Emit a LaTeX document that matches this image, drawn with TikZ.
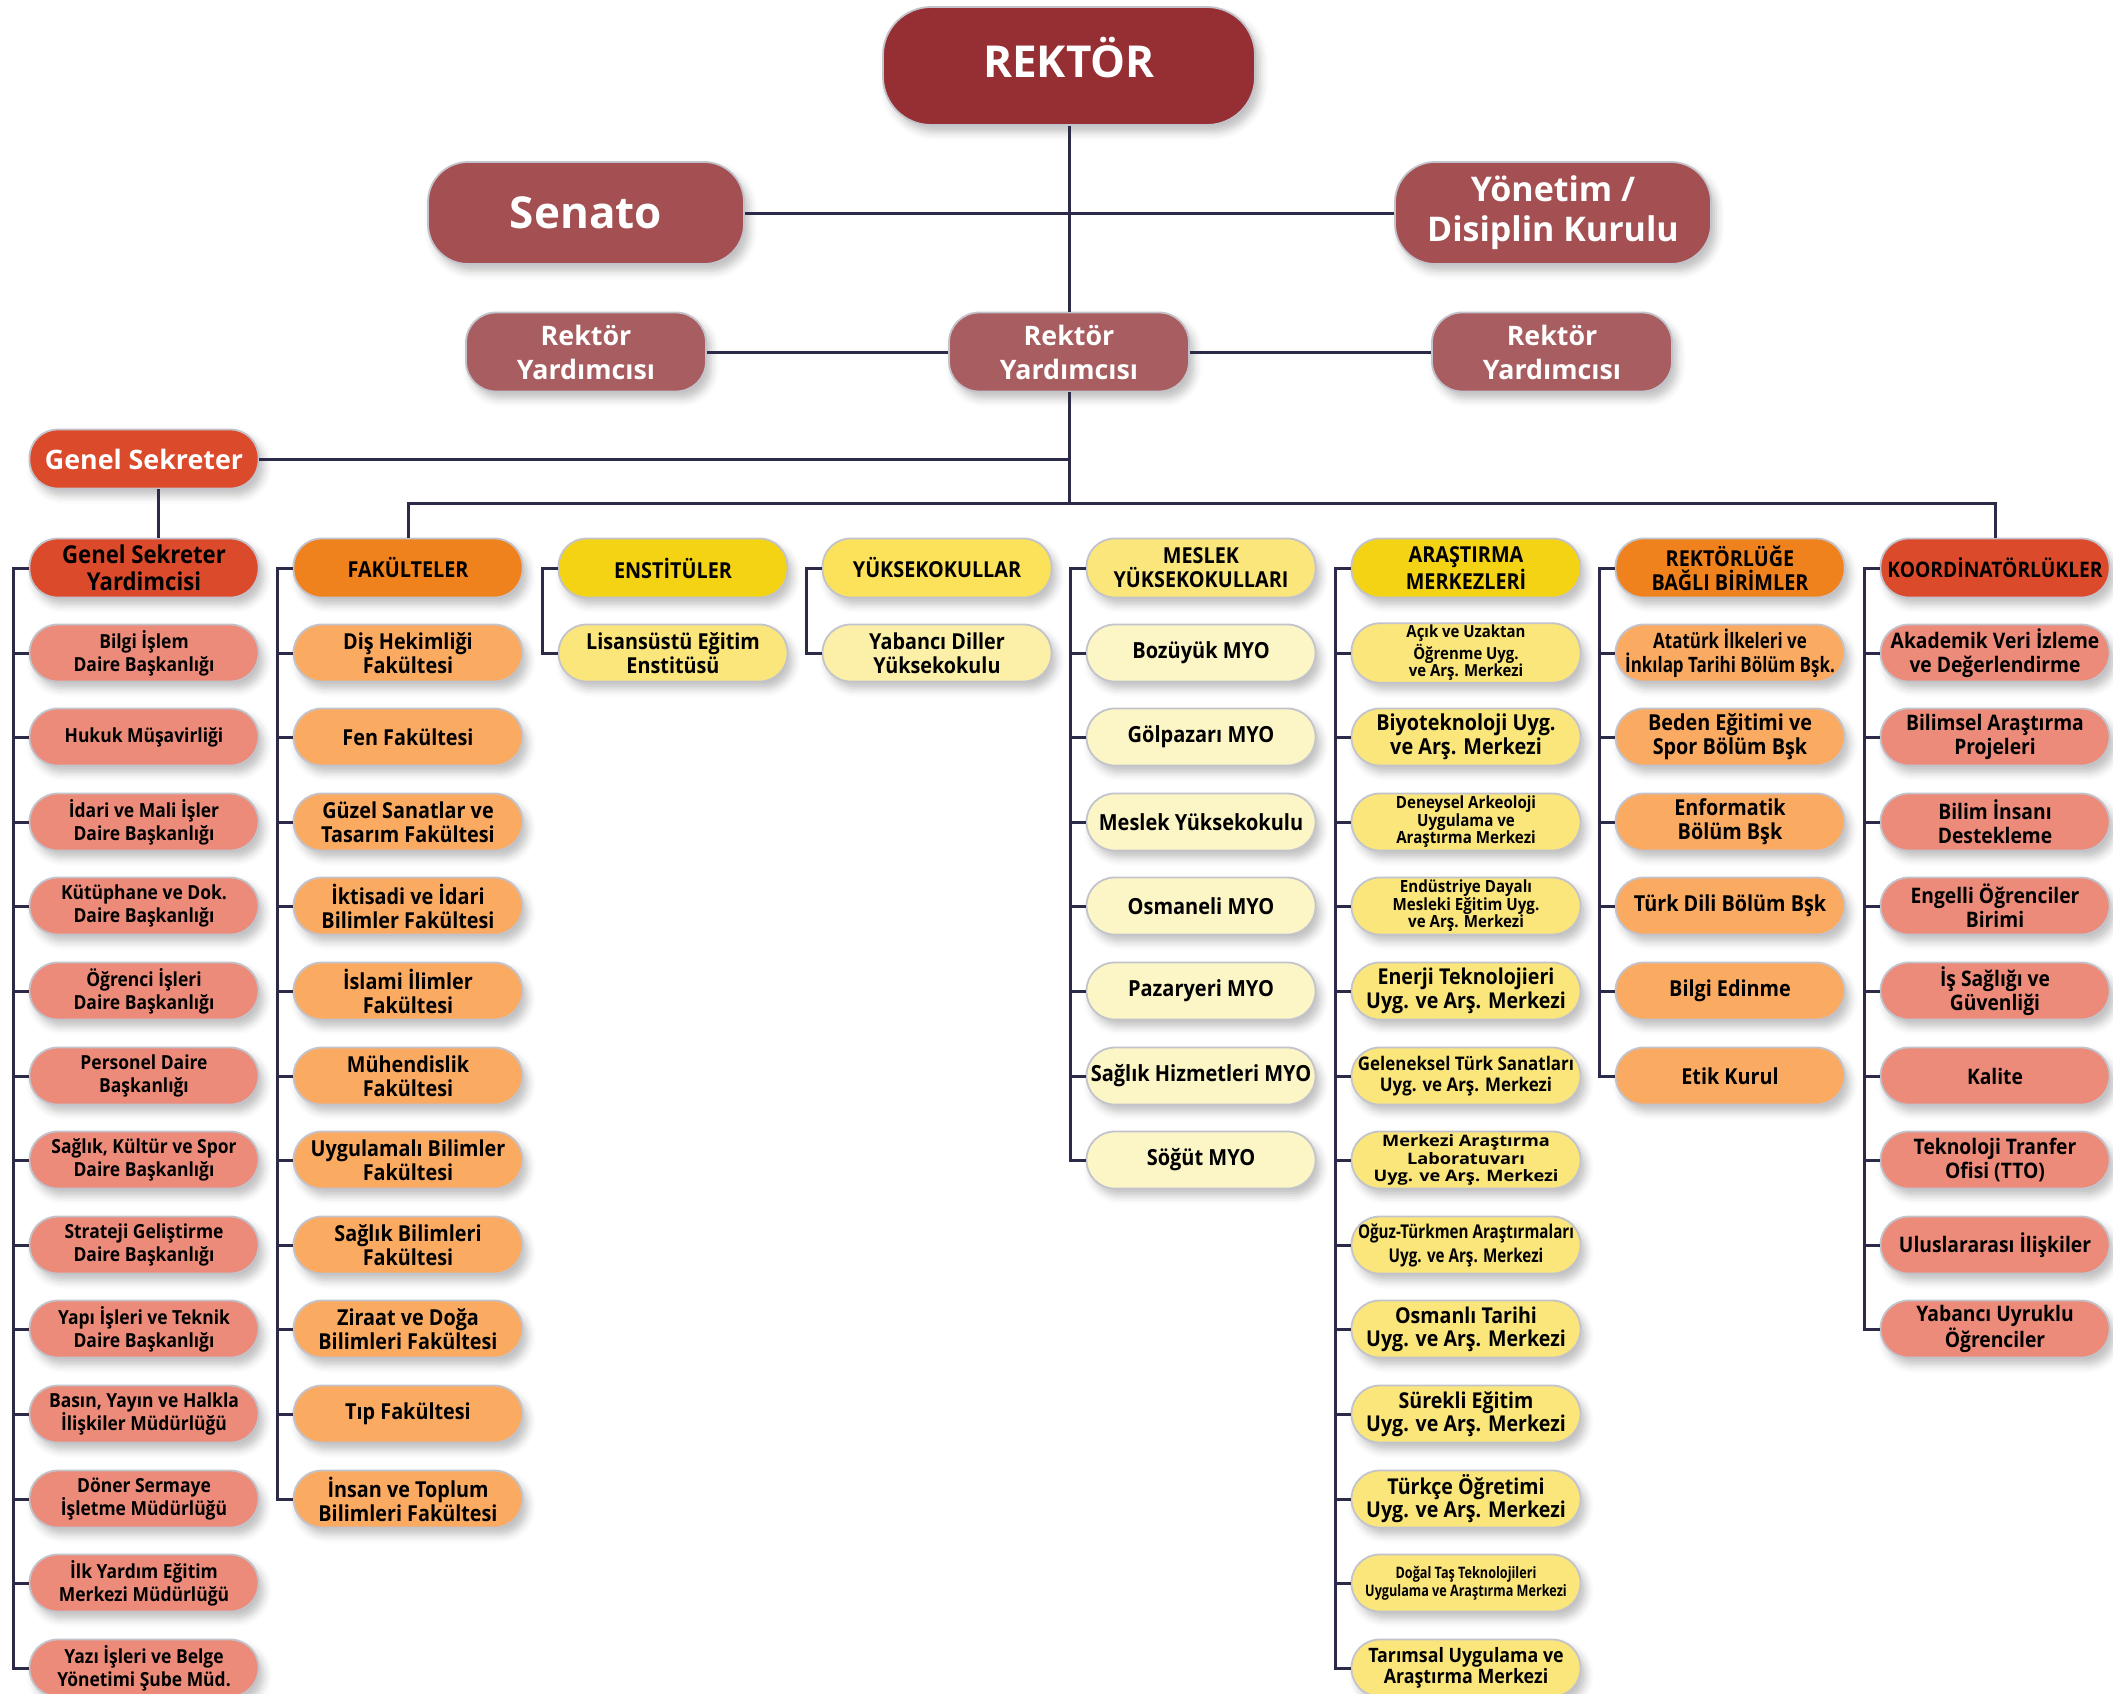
\documentclass[tikz,border=0pt]{standalone}
\usepackage{fontspec}
\setmainfont{Open Sans}
\newfontfamily\boxfamily{Open Sans}[FakeStretch=0.9]
\newfontfamily\narrowfamily{Open Sans}[FakeStretch=0.8]
\newfontfamily\widefamily{Open Sans}[FakeStretch=1.15]
\usetikzlibrary{shadows.blur}

\definecolor{rektorred}{HTML}{952F33}
\definecolor{senatored}{HTML}{A44F51}
\definecolor{ryred}{HTML}{A85E60}
\definecolor{gsred}{HTML}{DC4A2C}
\definecolor{salmon}{HTML}{EC8B79}
\definecolor{deeporange}{HTML}{F0821E}
\definecolor{lightorange}{HTML}{FBAA62}
\definecolor{deepyellow}{HTML}{F4D314}
\definecolor{midyellow}{HTML}{FBE25A}
\definecolor{softyellow}{HTML}{FBE67B}
\definecolor{paleyellow}{HTML}{FCF0A8}
\definecolor{creamyellow}{HTML}{FCF6C6}
\definecolor{boxline}{HTML}{C3C3CC}
\definecolor{linkcol}{HTML}{2B2A48}

\newcommand\topfont[2]{\bfseries\fontsize{#1}{#2}\selectfont}
\newcommand\boxfont[2]{\boxfamily\bfseries\fontsize{#1}{#2}\selectfont}
\newcommand\narrowfont[2]{\narrowfamily\bfseries\fontsize{#1}{#2}\selectfont}
\newcommand\widefont[2]{\widefamily\bfseries\fontsize{#1}{#2}\selectfont}

\tikzset{
  chartbox/.style={draw=boxline, line width=0.9pt, align=center, inner sep=1pt,
    blur shadow={shadow xshift=2.5pt, shadow yshift=-3.5pt, shadow blur radius=4pt, shadow opacity=25}},
  topbox/.style={chartbox, text=white},
  headbox/.style={chartbox, rounded corners=14pt, minimum width=114.5pt, minimum height=29.5pt, font=\boxfont{11}{12}},
  unitbox/.style={headbox, minimum height=28.5pt, font=\boxfont{11}{12}},
  link/.style={draw=linkcol, line width=1.5pt},
}

\begin{document}
\begin{tikzpicture}[x=0.5pt, y=-0.5pt]
\useasboundingbox (0,0) rectangle (2113,1693);
% top of the chart
\node[topbox, fill=rektorred, rounded corners=24pt, minimum width=186pt, minimum height=59pt, font=\topfont{22}{26}] (rektor) at (1069,66){\raisebox{9pt}{REKTÖR}};
\node[topbox, fill=senatored, rounded corners=20pt, minimum width=158pt, minimum height=51pt, font=\topfont{22}{26}] (senato) at (586,213){Senato};
\node[topbox, fill=senatored, rounded corners=20pt, minimum width=158pt, minimum height=51pt, font=\topfont{17}{20}] (yonetim) at (1553,213){Yönetim /\\Disiplin Kurulu};
\node[topbox, fill=ryred, rounded corners=15pt, minimum width=120pt, minimum height=39.5pt, font=\topfont{13.4}{17}] (ry1) at (586,352){Rektör\\Yardımcısı};
\node[topbox, fill=ryred, rounded corners=15pt, minimum width=120pt, minimum height=39.5pt, font=\topfont{13.4}{17}] (ry2) at (1069,352){Rektör\\Yardımcısı};
\node[topbox, fill=ryred, rounded corners=15pt, minimum width=120pt, minimum height=39.5pt, font=\topfont{13.4}{17}] (ry3) at (1552,352){Rektör\\Yardımcısı};
\node[topbox, fill=gsred, rounded corners=14pt, minimum width=114.5pt, minimum height=29.5pt, font=\topfont{13.4}{16}] (gensek) at (144,459){Genel Sekreter};
\coordinate (hub) at (1069,503);

% genel sekreter yardimcisi
\node[headbox, fill=gsred, font=\boxfont{12.3}{13.5}] (gsy) at (144,568){Genel Sekreter\\Yardimcisi};
\node[unitbox, fill=salmon, font=\boxfont{9.7}{11.5}] (gsy1) at (144,653){Bilgi İşlem\\Daire Başkanlığı};
\node[unitbox, fill=salmon, font=\boxfont{9.7}{11.5}] (gsy2) at (144,737){Hukuk Müşavirliği};
\node[unitbox, fill=salmon, font=\boxfont{9.7}{11.5}] (gsy3) at (144,822){İdari ve Mali İşler\\Daire Başkanlığı};
\node[unitbox, fill=salmon, font=\boxfont{9.7}{11.5}] (gsy4) at (144,906){Kütüphane ve Dok.\\Daire Başkanlığı};
\node[unitbox, fill=salmon, font=\boxfont{9.7}{11.5}] (gsy5) at (144,991){Öğrenci İşleri\\Daire Başkanlığı};
\node[unitbox, fill=salmon, font=\boxfont{9.7}{11.5}] (gsy6) at (144,1076){Personel Daire\\Başkanlığı};
\node[unitbox, fill=salmon, font=\boxfont{9.7}{11.5}] (gsy7) at (144,1160){Sağlık, Kültür ve Spor\\Daire Başkanlığı};
\node[unitbox, fill=salmon, font=\boxfont{9.7}{11.5}] (gsy8) at (144,1245){Strateji Geliştirme\\Daire Başkanlığı};
\node[unitbox, fill=salmon, font=\boxfont{9.7}{11.5}] (gsy9) at (144,1329){Yapı İşleri ve Teknik\\Daire Başkanlığı};
\node[unitbox, fill=salmon, font=\boxfont{9.7}{11.5}] (gsy10) at (144,1414){Basın, Yayın ve Halkla\\İlişkiler Müdürlüğü};
\node[unitbox, fill=salmon, font=\boxfont{9.7}{11.5}] (gsy11) at (144,1499){Döner Sermaye\\İşletme Müdürlüğü};
\node[unitbox, fill=salmon, font=\boxfont{9.7}{11.5}] (gsy12) at (144,1583){İlk Yardım Eğitim\\Merkezi Müdürlüğü};
\node[unitbox, fill=salmon, font=\boxfont{9.7}{11.5}] (gsy13) at (144,1668){Yazı İşleri ve Belge\\Yönetimi Şube Müd.};

% fakulteler
\node[headbox, fill=deeporange] (fak) at (408,568){FAKÜLTELER};
\node[unitbox, fill=lightorange] (fak1) at (408,653){Diş Hekimliği\\Fakültesi};
\node[unitbox, fill=lightorange] (fak2) at (408,737){Fen Fakültesi};
\node[unitbox, fill=lightorange] (fak3) at (408,822){Güzel Sanatlar ve\\Tasarım Fakültesi};
\node[unitbox, fill=lightorange] (fak4) at (408,906){İktisadi ve İdari\\Bilimler Fakültesi};
\node[unitbox, fill=lightorange] (fak5) at (408,991){İslami İlimler\\Fakültesi};
\node[unitbox, fill=lightorange] (fak6) at (408,1076){Mühendislik\\Fakültesi};
\node[unitbox, fill=lightorange] (fak7) at (408,1160){Uygulamalı Bilimler\\Fakültesi};
\node[unitbox, fill=lightorange] (fak8) at (408,1245){Sağlık Bilimleri\\Fakültesi};
\node[unitbox, fill=lightorange] (fak9) at (408,1329){Ziraat ve Doğa\\Bilimleri Fakültesi};
\node[unitbox, fill=lightorange] (fak10) at (408,1414){Tıp Fakültesi};
\node[unitbox, fill=lightorange] (fak11) at (408,1499){İnsan ve Toplum\\Bilimleri Fakültesi};

% enstituler, yuksekokullar
\node[headbox, fill=deepyellow] (ens) at (673,568){ENSTİTÜLER};
\node[unitbox, fill=softyellow] (ens1) at (673,653){Lisansüstü Eğitim\\Enstitüsü};
\node[headbox, fill=midyellow] (yuk) at (937,568){YÜKSEKOKULLAR};
\node[unitbox, fill=paleyellow] (yuk1) at (937,653){Yabancı Diller\\Yüksekokulu};

% meslek yuksekokullari
\node[headbox, fill=softyellow] (myo) at (1201,568){MESLEK\\YÜKSEKOKULLARI};
\node[unitbox, fill=creamyellow, font=\boxfont{11.1}{12}] (myo1) at (1201,653){Bozüyük MYO};
\node[unitbox, fill=creamyellow, font=\boxfont{11.1}{12}] (myo2) at (1201,737){Gölpazarı MYO};
\node[unitbox, fill=creamyellow, font=\boxfont{11.1}{12}] (myo3) at (1201,822){Meslek Yüksekokulu};
\node[unitbox, fill=creamyellow, font=\boxfont{11.1}{12}] (myo4) at (1201,906){Osmaneli MYO};
\node[unitbox, fill=creamyellow, font=\boxfont{11.1}{12}] (myo5) at (1201,991){Pazaryeri MYO};
\node[unitbox, fill=creamyellow, font=\boxfont{11.1}{12}] (myo6) at (1201,1076){Sağlık Hizmetleri MYO};
\node[unitbox, fill=creamyellow, font=\boxfont{11.1}{12}] (myo7) at (1201,1160){Söğüt MYO};

% arastirma merkezleri
\node[headbox, fill=deepyellow] (arm) at (1466,568){ARAŞTIRMA\\MERKEZLERİ};
\node[unitbox, fill=softyellow, font=\boxfont{8.3}{8.8}] (arm1) at (1466,653){Açık ve Uzaktan\\Öğrenme Uyg.\\ve Arş. Merkezi};
\node[unitbox, fill=softyellow, font=\boxfont{11}{12}] (arm2) at (1466,737){Biyoteknoloji Uyg.\\ve Arş. Merkezi};
\node[unitbox, fill=softyellow, font=\boxfont{8.4}{8.8}] (arm3) at (1466,822){Deneysel Arkeoloji\\Uygulama ve\\Araştırma Merkezi};
\node[unitbox, fill=softyellow, font=\boxfont{8.4}{8.8}] (arm4) at (1466,906){Endüstriye Dayalı\\Mesleki Eğitim Uyg.\\ve Arş. Merkezi};
\node[unitbox, fill=softyellow, font=\boxfont{10.9}{12}] (arm5) at (1466,991){Enerji Teknolojieri\\Uyg. ve Arş. Merkezi};
\node[unitbox, fill=softyellow, font=\boxfont{9.4}{10.8}] (arm6) at (1466,1076){Geleneksel Türk Sanatları\\Uyg. ve Arş. Merkezi};
\node[unitbox, fill=softyellow, font=\widefont{7.9}{8.6}] (arm7) at (1466,1160){Merkezi Araştırma\\Laboratuvarı\\Uyg. ve Arş. Merkezi};
\node[unitbox, fill=softyellow, font=\narrowfont{9.5}{12}] (arm8) at (1466,1245){Oğuz-Türkmen Araştırmaları\\Uyg. ve Arş. Merkezi};
\node[unitbox, fill=softyellow, font=\boxfont{10.9}{11.5}] (arm9) at (1466,1329){Osmanlı Tarihi\\Uyg. ve Arş. Merkezi};
\node[unitbox, fill=softyellow, font=\boxfont{10.9}{11.5}] (arm10) at (1466,1414){Sürekli Eğitim\\Uyg. ve Arş. Merkezi};
\node[unitbox, fill=softyellow, font=\boxfont{10.9}{11.5}] (arm11) at (1466,1499){Türkçe Öğretimi\\Uyg. ve Arş. Merkezi};
\node[unitbox, fill=softyellow, font=\narrowfont{7.9}{9}] (arm12) at (1466,1583){Doğal Taş Teknolojileri\\Uygulama ve Araştırma Merkezi};
\node[unitbox, fill=softyellow, font=\boxfont{9.9}{10.8}] (arm13) at (1466,1668){Tarımsal Uygulama ve\\Araştırma Merkezi};

% rektorluge bagli birimler
\node[headbox, fill=deeporange] (rbb) at (1730,568){REKTÖRLÜĞE\\BAĞLI BİRİMLER};
\node[unitbox, fill=lightorange, font=\narrowfont{10.6}{12}] (rbb1) at (1730,653){Atatürk İlkeleri ve\\İnkılap Tarihi Bölüm Bşk.};
\node[unitbox, fill=lightorange] (rbb2) at (1730,737){Beden Eğitimi ve\\Spor Bölüm Bşk};
\node[unitbox, fill=lightorange] (rbb3) at (1730,822){Enformatik\\Bölüm Bşk};
\node[unitbox, fill=lightorange] (rbb4) at (1730,906){Türk Dili Bölüm Bşk};
\node[unitbox, fill=lightorange] (rbb5) at (1730,991){Bilgi Edinme};
\node[unitbox, fill=lightorange] (rbb6) at (1730,1076){Etik Kurul};

% koordinatorlukler
\node[headbox, fill=gsred, font=\boxfont{10.7}{12}] (koo) at (1995,568){KOORDİNATÖRLÜKLER};
\node[unitbox, fill=salmon, font=\boxfont{10.7}{12}] (koo1) at (1995,653){Akademik Veri İzleme\\ve Değerlendirme};
\node[unitbox, fill=salmon, font=\boxfont{10.7}{12}] (koo2) at (1995,737){Bilimsel Araştırma\\Projeleri};
\node[unitbox, fill=salmon, font=\boxfont{10.7}{12}] (koo3) at (1995,822){Bilim İnsanı\\Destekleme};
\node[unitbox, fill=salmon, font=\boxfont{10.7}{12}] (koo4) at (1995,906){Engelli Öğrenciler\\Birimi};
\node[unitbox, fill=salmon, font=\boxfont{10.7}{12}] (koo5) at (1995,991){İş Sağlığı ve\\Güvenliği};
\node[unitbox, fill=salmon, font=\boxfont{10.7}{12}] (koo6) at (1995,1076){Kalite};
\node[unitbox, fill=salmon, font=\boxfont{10.7}{12}] (koo7) at (1995,1160){Teknoloji Tranfer\\Ofisi (TTO)};
\node[unitbox, fill=salmon, font=\boxfont{10.7}{12}] (koo8) at (1995,1245){Uluslararası İlişkiler};
\node[unitbox, fill=salmon, font=\boxfont{10.7}{12}] (koo9) at (1995,1329){Yabancı Uyruklu\\Öğrenciler};

% connectors
\draw[link](rektor) -- (ry2);
\draw[link](senato) -- (yonetim);
\draw[link](ry1) -- (ry2);
\draw[link](ry2) -- (ry3);
\draw[link](ry2) -- (hub);
\draw[link](gensek) -- (gensek -| hub);
\draw[link](fak.north) |- (hub) -| (koo.north);
\draw[link]([xshift=7pt]gensek.south) -- ([xshift=7pt]gsy.north);

\draw[link](gsy.west) -- ++(-7.5pt,0) |- (gsy13.west);
\draw[link](gsy1.west) -- ++(-7.5pt,0) (gsy2.west) -- ++(-7.5pt,0) (gsy3.west) -- ++(-7.5pt,0)
  (gsy4.west) -- ++(-7.5pt,0) (gsy5.west) -- ++(-7.5pt,0) (gsy6.west) -- ++(-7.5pt,0)
  (gsy7.west) -- ++(-7.5pt,0) (gsy8.west) -- ++(-7.5pt,0) (gsy9.west) -- ++(-7.5pt,0)
  (gsy10.west) -- ++(-7.5pt,0) (gsy11.west) -- ++(-7.5pt,0) (gsy12.west) -- ++(-7.5pt,0);
\draw[link](fak.west) -- ++(-7.5pt,0) |- (fak11.west);
\draw[link](fak1.west) -- ++(-7.5pt,0) (fak2.west) -- ++(-7.5pt,0) (fak3.west) -- ++(-7.5pt,0)
  (fak4.west) -- ++(-7.5pt,0) (fak5.west) -- ++(-7.5pt,0) (fak6.west) -- ++(-7.5pt,0)
  (fak7.west) -- ++(-7.5pt,0) (fak8.west) -- ++(-7.5pt,0) (fak9.west) -- ++(-7.5pt,0)
  (fak10.west) -- ++(-7.5pt,0);
\draw[link](ens.west) -- ++(-7.5pt,0) |- (ens1.west);
\draw[link](yuk.west) -- ++(-7.5pt,0) |- (yuk1.west);
\draw[link](myo.west) -- ++(-7.5pt,0) |- (myo7.west);
\draw[link](myo1.west) -- ++(-7.5pt,0) (myo2.west) -- ++(-7.5pt,0) (myo3.west) -- ++(-7.5pt,0)
  (myo4.west) -- ++(-7.5pt,0) (myo5.west) -- ++(-7.5pt,0) (myo6.west) -- ++(-7.5pt,0);
\draw[link](arm.west) -- ++(-7.5pt,0) |- (arm13.west);
\draw[link](arm1.west) -- ++(-7.5pt,0) (arm2.west) -- ++(-7.5pt,0) (arm3.west) -- ++(-7.5pt,0)
  (arm4.west) -- ++(-7.5pt,0) (arm5.west) -- ++(-7.5pt,0) (arm6.west) -- ++(-7.5pt,0)
  (arm7.west) -- ++(-7.5pt,0) (arm8.west) -- ++(-7.5pt,0) (arm9.west) -- ++(-7.5pt,0)
  (arm10.west) -- ++(-7.5pt,0) (arm11.west) -- ++(-7.5pt,0) (arm12.west) -- ++(-7.5pt,0);
\draw[link](rbb.west) -- ++(-7.5pt,0) |- (rbb6.west);
\draw[link](rbb1.west) -- ++(-7.5pt,0) (rbb2.west) -- ++(-7.5pt,0) (rbb3.west) -- ++(-7.5pt,0)
  (rbb4.west) -- ++(-7.5pt,0) (rbb5.west) -- ++(-7.5pt,0);
\draw[link](koo.west) -- ++(-7.5pt,0) |- (koo9.west);
\draw[link](koo1.west) -- ++(-7.5pt,0) (koo2.west) -- ++(-7.5pt,0) (koo3.west) -- ++(-7.5pt,0)
  (koo4.west) -- ++(-7.5pt,0) (koo5.west) -- ++(-7.5pt,0) (koo6.west) -- ++(-7.5pt,0)
  (koo7.west) -- ++(-7.5pt,0) (koo8.west) -- ++(-7.5pt,0);
\end{tikzpicture}
\end{document}
